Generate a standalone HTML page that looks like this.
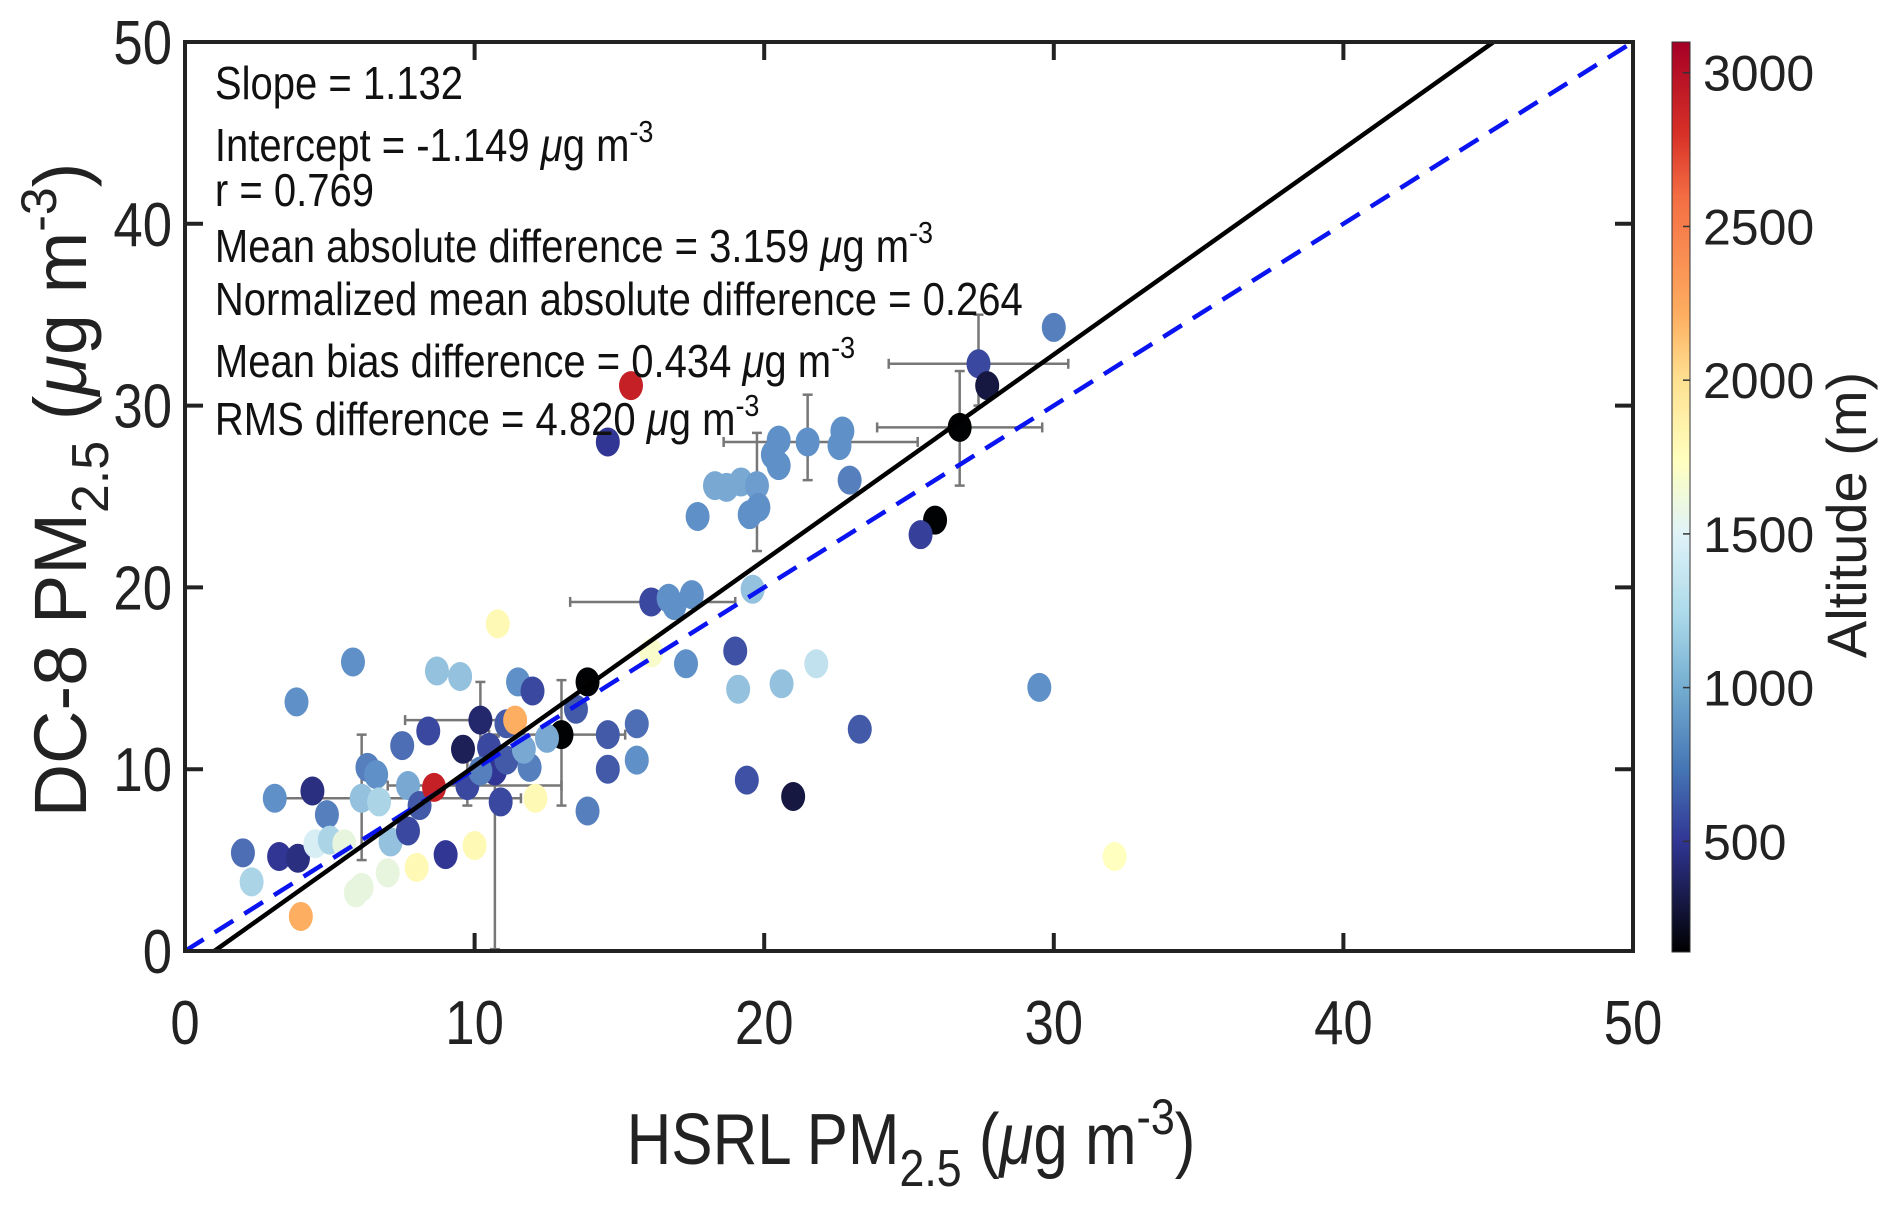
<!DOCTYPE html>
<html><head><meta charset="utf-8"><style>
html,body{margin:0;padding:0;background:#fff}
svg{display:block;font-family:"Liberation Sans",sans-serif}
</style></head><body>
<svg id="chart" width="1892" height="1223" viewBox="0 0 1892 1223" xmlns="http://www.w3.org/2000/svg">
<defs>
<linearGradient id="cbar" x1="0" y1="1" x2="0" y2="0">
<stop offset="0" stop-color="#000000"/>
<stop offset="0.122" stop-color="#313695"/>
<stop offset="0.20" stop-color="#4575b4"/>
<stop offset="0.29" stop-color="#74add1"/>
<stop offset="0.37" stop-color="#abd9e9"/>
<stop offset="0.46" stop-color="#e0f3f8"/>
<stop offset="0.54" stop-color="#ffffbf"/>
<stop offset="0.63" stop-color="#fee090"/>
<stop offset="0.70" stop-color="#fdae61"/>
<stop offset="0.83" stop-color="#f46d43"/>
<stop offset="0.90" stop-color="#d73027"/>
<stop offset="1" stop-color="#a50026"/>
</linearGradient>
</defs>
<g id="errbars"></g>
<g id="points"></g>
<g id="lines"></g>
<rect x="185" y="42" width="1448" height="909" fill="none" stroke="#222" stroke-width="4"/>
<g id="ticks"></g>
<g id="stats" font-size="46" fill="#111" transform="scale(0.87,1)">
<text x="247" y="99">Slope = 1.132</text>
<text x="247" y="161">Intercept = -1.149 <tspan font-style="italic">μ</tspan>g m<tspan font-size="31" dy="-19">-3</tspan></text>
<text x="247" y="206">r = 0.769</text>
<text x="247" y="262">Mean absolute difference = 3.159 <tspan font-style="italic">μ</tspan>g m<tspan font-size="31" dy="-19">-3</tspan></text>
<text x="247" y="315">Normalized mean absolute difference = 0.264</text>
<text x="247" y="377">Mean bias difference = 0.434 <tspan font-style="italic">μ</tspan>g m<tspan font-size="31" dy="-19">-3</tspan></text>
<text x="247" y="435">RMS difference = 4.820 <tspan font-style="italic">μ</tspan>g m<tspan font-size="31" dy="-19">-3</tspan></text>
</g>
<g transform="translate(911,1164) scale(0.86,1)" font-size="72" fill="#222">
<text text-anchor="middle" x="0" y="0">HSRL PM<tspan font-size="52" dy="22">2.5</tspan><tspan dy="-22"> (</tspan><tspan font-style="italic">μ</tspan>g m<tspan font-size="50" dy="-30">-3</tspan><tspan dy="30">)</tspan></text>
</g>
<g transform="translate(86,490) rotate(-90)" font-size="74" fill="#222">
<text text-anchor="middle" x="0" y="0">DC-8 PM<tspan font-size="52" dy="22">2.5</tspan><tspan dy="-22"> (</tspan><tspan font-style="italic">μ</tspan>g m<tspan font-size="50" dy="-30">-3</tspan><tspan dy="30">)</tspan></text>
</g>
<rect x="1672" y="42" width="18" height="910" fill="url(#cbar)" stroke="#333" stroke-width="1"/>
<g id="cbticks"></g>
<text transform="translate(1866,515) rotate(-90)" text-anchor="middle" font-size="56" fill="#222">Altitude (m)</text>
</svg>
<script>
// data arrays
const xValues = [30.0,27.4,27.7,26.75,15.4,14.6,25.9,25.4,29.5,32.1,23.3,21.0,19.4,19.0,19.1,20.6,21.8,17.3,16.1,19.6,16.1,16.7,16.9,17.5,17.7,18.3,18.7,19.2,19.75,19.5,19.8,20.3,20.5,20.5,21.5,22.7,22.6,22.95,
2.0,2.3,3.25,4.0,3.85,3.1,4.4,5.8,3.9,4.5,4.9,5.0,5.5,6.1,6.1,6.3,6.6,6.7,7.1,7.5,7.0,7.7,8.0,8.4,8.7,9.5,9.0,9.6,9.75,10.0,10.2,10.5,10.9,10.8,11.1,11.5,11.9,12.0,12.1,13.0,13.5,13.9,13.9,14.6,14.6,15.6,15.6,5.9,12.5,10.7,11.1,11.7,10.2,8.1,7.7,8.6,11.4];
const yValues = [34.3,32.3,31.1,28.8,31.1,28.0,23.7,22.9,14.5,5.2,12.2,8.5,9.4,16.5,14.4,14.7,15.8,15.8,16.4,19.9,19.2,19.4,19.0,19.6,23.9,25.6,25.5,25.8,25.6,24.0,24.4,27.3,26.7,28.1,28.0,28.6,27.8,25.9,
5.4,3.8,5.2,1.9,13.7,8.4,8.8,15.9,5.1,5.9,7.5,6.1,5.9,3.5,8.4,10.1,9.7,8.2,6.0,11.3,4.3,9.1,4.6,12.1,15.4,15.1,5.3,11.1,9.1,5.8,12.7,11.2,8.2,18.0,12.5,14.8,10.1,14.3,8.4,11.9,13.3,14.8,7.7,11.9,10.0,12.5,10.5,3.2,11.7,9.9,10.5,11.1,9.9,8.0,6.6,9.0,12.7];
const altValues = [900,600,300,150,2900,500,150,550,1000,1750,700,300,650,650,1200,1200,1400,1000,1700,1200,600,1000,1000,1000,1000,1100,1100,1100,1050,1000,1000,1000,1000,1000,1000,1000,1000,900,
800,1300,500,2200,1000,1000,450,1000,450,1500,900,1300,1600,1600,1200,900,1000,1300,1200,800,1600,1100,1800,600,1200,1200,500,350,600,1800,400,600,600,1800,700,1000,900,600,1800,150,700,150,900,700,700,800,1000,1600,1100,500,700,1100,900,700,600,2900,2200];
// error bars: index, xlow, xhigh, ylow, yhigh
const errIdx = [3,1,20,34,87,68,52,77,66,28];
const errXLow = [23.9,24.3,13.3,18.6,5.9,7.6,3.1,10.5,7.0,19.75];
const errXHigh = [29.6,30.5,19.0,25.3,5.9,11.5,11.6,15.2,13.0,19.75];
const errYLow = [25.6,30.0,19.2,25.9,0.1,10.0,5.0,8.0,8.0,22.0];
const errYHigh = [31.9,35.0,19.2,30.6,11.8,14.8,11.9,14.9,10.5,28.5];
const axisTicks = [0,10,20,30,40,50];
const cbTicks = [500,1000,1500,2000,2500,3000];
const slope = 1.132, intercept = -1.149;

const NS = "http://www.w3.org/2000/svg";
const X = v => 185 + v/50*1448;
const Y = v => 951 - v/50*909;
const altMin = 140, altMax = 3100;
const AY = a => 952 - (a-altMin)/(altMax-altMin)*910;
const stops = [[140,[0,0,0]],[500,[49,54,149]],[1000,[95,145,200]],[1250,[160,205,228]],[1500,[215,238,245]],[1750,[255,255,191]],[2000,[254,224,144]],[2200,[253,174,97]],[2600,[244,109,67]],[2800,[215,48,39]],[3100,[165,0,38]]];
function col(a){
  for(let i=0;i<stops.length-1;i++){
    const [a0,c0]=stops[i],[a1,c1]=stops[i+1];
    if(a<=a1||i==stops.length-2){
      const t=Math.max(0,Math.min(1,(a-a0)/(a1-a0)));
      return `rgb(${c0.map((c,k)=>Math.round(c+(c1[k]-c)*t)).join(',')})`;
    }
  }
}
function mk(tag,attrs,parent){const e=document.createElementNS(NS,tag);for(const k in attrs)e.setAttribute(k,attrs[k]);parent.appendChild(e);return e;}

const eb=document.getElementById('errbars');
errIdx.forEach((idx,j)=>{
  const cx=X(xValues[idx]), cy=Y(yValues[idx]);
  const g=mk('g',{stroke:'#777','stroke-width':2.5,fill:'none'},eb);
  
  
  if(errXHigh[j]>errXLow[j]){
    mk('line',{x1:X(errXLow[j]),x2:X(errXHigh[j]),y1:cy,y2:cy},g);
    mk('line',{x1:X(errXLow[j]),x2:X(errXLow[j]),y1:cy-5,y2:cy+5},g);
    mk('line',{x1:X(errXHigh[j]),x2:X(errXHigh[j]),y1:cy-5,y2:cy+5},g);
  }
  if(errYHigh[j]>errYLow[j]){
    mk('line',{x1:cx,x2:cx,y1:Y(errYLow[j]),y2:Y(errYHigh[j])},g);
    mk('line',{x1:cx-5,x2:cx+5,y1:Y(errYLow[j]),y2:Y(errYLow[j])},g);
    mk('line',{x1:cx-5,x2:cx+5,y1:Y(errYHigh[j]),y2:Y(errYHigh[j])},g);
  }
});

const pts=document.getElementById('points');
xValues.forEach((xv,i)=>{
  const e=mk('ellipse',{cx:X(xv),cy:Y(yValues[i]),rx:12,ry:14.5,fill:col(altValues[i])},pts);
  
  
});

const ln=document.getElementById('lines');
const one=mk('line',{x1:X(0),y1:Y(0),x2:X(50),y2:Y(50),stroke:'#0a14f0','stroke-width':4.5,'stroke-dasharray':'22,13'},ln);


const x0=-intercept/slope, x1=(50-intercept)/slope;
const fit=mk('line',{x1:X(x0),y1:Y(0),x2:X(x1),y2:Y(50),stroke:'#000','stroke-width':4.5},ln);



const tk=document.getElementById('ticks');
axisTicks.forEach(v=>{
  mk('line',{x1:X(v),x2:X(v),y1:951,y2:933,stroke:'#222','stroke-width':4},tk);
  mk('line',{x1:X(v),x2:X(v),y1:42,y2:60,stroke:'#222','stroke-width':4},tk);
  mk('line',{x1:185,x2:203,y1:Y(v),y2:Y(v),stroke:'#222','stroke-width':4},tk);
  mk('line',{x1:1633,x2:1615,y1:Y(v),y2:Y(v),stroke:'#222','stroke-width':4},tk);
  const tx=mk('text',{transform:`translate(${X(v)},1044) scale(0.85,1)`,'text-anchor':'middle','font-size':62,fill:'#222'},tk);
  tx.textContent=v;
  
  
  const ty=mk('text',{transform:`translate(172,${Y(v)+22}) scale(0.85,1)`,'text-anchor':'end','font-size':62,fill:'#222'},tk);
  ty.textContent=v;
  
  
});
const cb=document.getElementById('cbticks');
cbTicks.forEach(v=>{
  mk('line',{x1:1683,x2:1690,y1:AY(v),y2:AY(v),stroke:'#333','stroke-width':1.5},cb);
  const t=mk('text',{x:1703,y:AY(v)+18,'font-size':50,fill:'#222'},cb);
  t.textContent=v;
  
  
});
</script>
</body></html>
